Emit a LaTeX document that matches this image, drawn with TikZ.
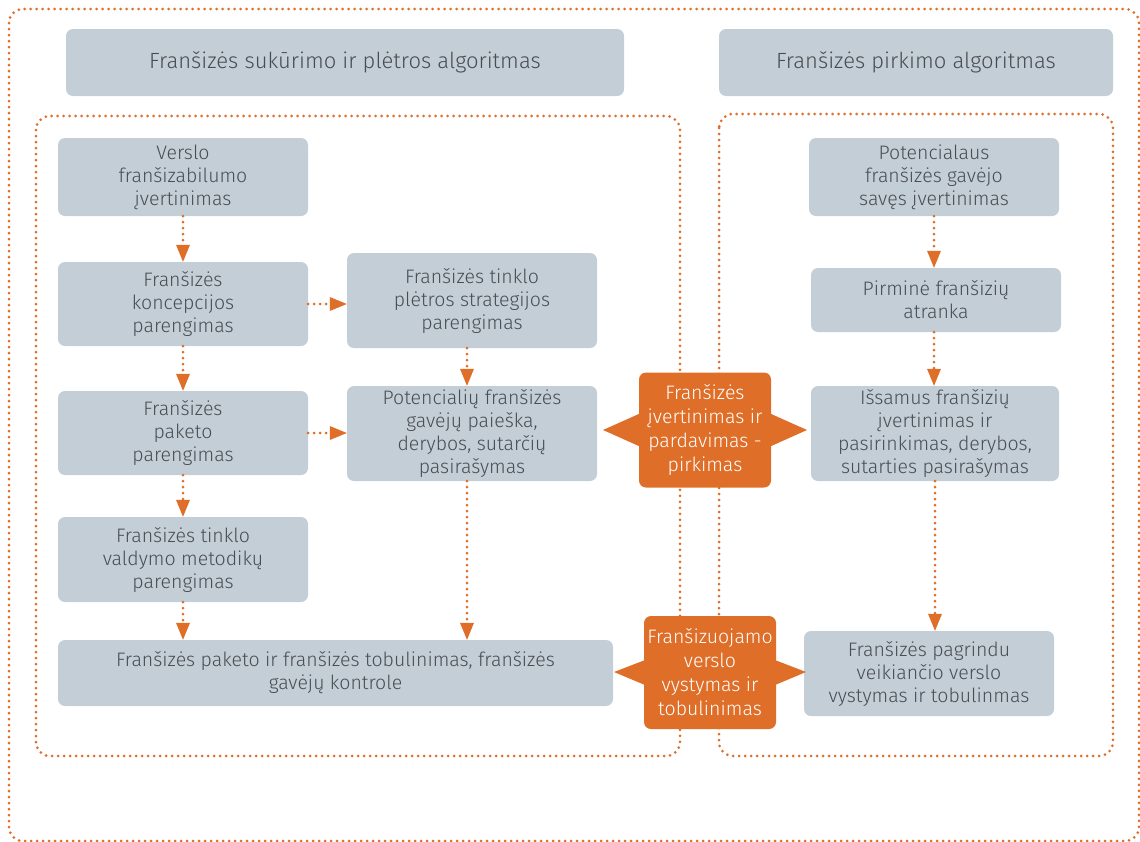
\documentclass[tikz,border=0pt]{standalone}
\usepackage{fontspec}
\setmainfont{Fira Sans Light}
\usetikzlibrary{arrows.meta}
\definecolor{boxgray}{RGB}{195,206,214}
\definecolor{txtgray}{RGB}{72,77,82}
\definecolor{fora}{RGB}{222,110,40}
\tikzset{
  box/.style={rectangle, rounded corners=7pt, fill=boxgray, text=txtgray, align=center,
    font=\fontsize{19.5}{23}\selectfont, inner sep=0pt},
  hdr/.style={box, font=\fontsize{22}{26}\selectfont},
  obox/.style={rectangle, rounded corners=7pt, fill=fora, text=white, align=center,
    font=\fontsize{19.5}{24}\selectfont, inner sep=0pt},
  dotline/.style={draw=fora, line width=3pt, line cap=round, dash pattern=on 0pt off 6pt},
  frame/.style={dotline, rounded corners=14pt},
  arr/.style={dotline, -{Triangle[width=14pt,length=17pt,fill=fora,line width=0pt]}, shorten >=0pt},
}
\begin{document}
\begin{tikzpicture}[x=1pt,y=-1pt]
\useasboundingbox (0,0) rectangle (1140,841);
% frames
\draw[frame] (9,9) rectangle (1139,841);
\draw[frame] (36,116) rectangle (680,756);
\draw[frame] (719,114) rectangle (1113,756);
% headers
\node[hdr, minimum width=558pt, minimum height=67pt] (h1) at (345,62.5) {Franšizės sukūrimo ir plėtros algoritmas};
\node[hdr, minimum width=394pt, minimum height=67pt] (h2) at (916,62.5) {Franšizės pirkimo algoritmas};
% left column
\node[box, minimum width=250pt, minimum height=78pt] (b1) at (183,177) {Verslo\\franšizabilumo\\įvertinimas};
\node[box, minimum width=250pt, minimum height=84pt] (b2) at (183,304) {Franšizės\\koncepcijos\\parengimas};
\node[box, minimum width=250pt, minimum height=95pt] (b3) at (472,300.5) {Franšizės tinklo\\plėtros strategijos\\parengimas};
\node[box, minimum width=250pt, minimum height=84pt] (b4) at (183,433) {Franšizės\\paketo\\parengimas};
\node[box, minimum width=250pt, minimum height=95pt] (b5) at (472,433.5) {Potencialių franšizės\\gavėjų paieška,\\derybos, sutarčių\\pasirašymas};
\node[box, minimum width=250pt, minimum height=85pt] (b6) at (183,559.5) {Franšizės tinklo\\valdymo metodikų\\parengimas};
\node[box, minimum width=555pt, minimum height=66pt] (b7) at (335.5,673) {Franšizės paketo ir franšizės tobulinimas, franšizės\\gavėjų kontrole};
% right column
\node[box, minimum width=250pt, minimum height=78pt] (r1) at (934,177) {Potencialaus\\franšizės gavėjo\\savęs įvertinimas};
\node[box, minimum width=250pt, minimum height=64pt] (r2) at (936,300) {Pirminė franšizių\\atranka};
\node[box, minimum width=248pt, minimum height=95pt] (r3) at (935,433.5) {Išsamus franšizių\\įvertinimas ir\\pasirinkimas, derybos,\\sutarties pasirašymas};
\node[box, minimum width=250pt, minimum height=85pt] (r4) at (929,673.5) {Franšizės pagrindu\\veikiančio verslo\\vystymas ir tobulinmas};
% arrows
\draw[arr] (b1.south) -- (b2.north);
\draw[arr] (b2.south) -- (b4.north);
\draw[arr] (b4.south) -- (b6.north);
\draw[arr] (b6.south) -- (b6.south |- b7.north);
\draw[arr] (b2.east) -- (b2.east -| b3.west);
\draw[arr] (b4.east) -- (b4.east -| b5.west);
\draw[arr] ([xshift=-5pt]b3.south) -- ([xshift=-5pt]b5.north);
\draw[arr] ([xshift=-5pt]b5.south) -- ([xshift=-5pt]b5.south |- b7.north);
\draw[arr] (r1.south) -- (r1.south |- r2.north);
\draw[arr] (r2.south -| r1.south) -- (r1.south |- r3.north);
\draw[arr] (r3.south) -- (r3.south |- r4.north);
% orange shapes
\node[obox, minimum width=132pt, minimum height=115pt] (o1) at (705,430) {Franšizės\\įvertinimas ir\\pardavimas -\\pirkimas};
\fill[fora] ([yshift=-16pt]o1.west) -- (603,430) -- ([yshift=16pt]o1.west) -- cycle;
\fill[fora] ([yshift=-16pt]o1.east) -- (807,430) -- ([yshift=16pt]o1.east) -- cycle;
\node[obox, minimum width=132pt, minimum height=113pt] (o2) at (710,672.5) {Franšizuojamo\\verslo\\vystymas ir\\tobulinimas};
\fill[fora] ([yshift=-12pt]o2.west) -- (614,672) -- ([yshift=12pt]o2.west) -- cycle;
\fill[fora] ([yshift=-12pt]o2.east) -- (806,672) -- ([yshift=12pt]o2.east) -- cycle;
\end{tikzpicture}
\end{document}
